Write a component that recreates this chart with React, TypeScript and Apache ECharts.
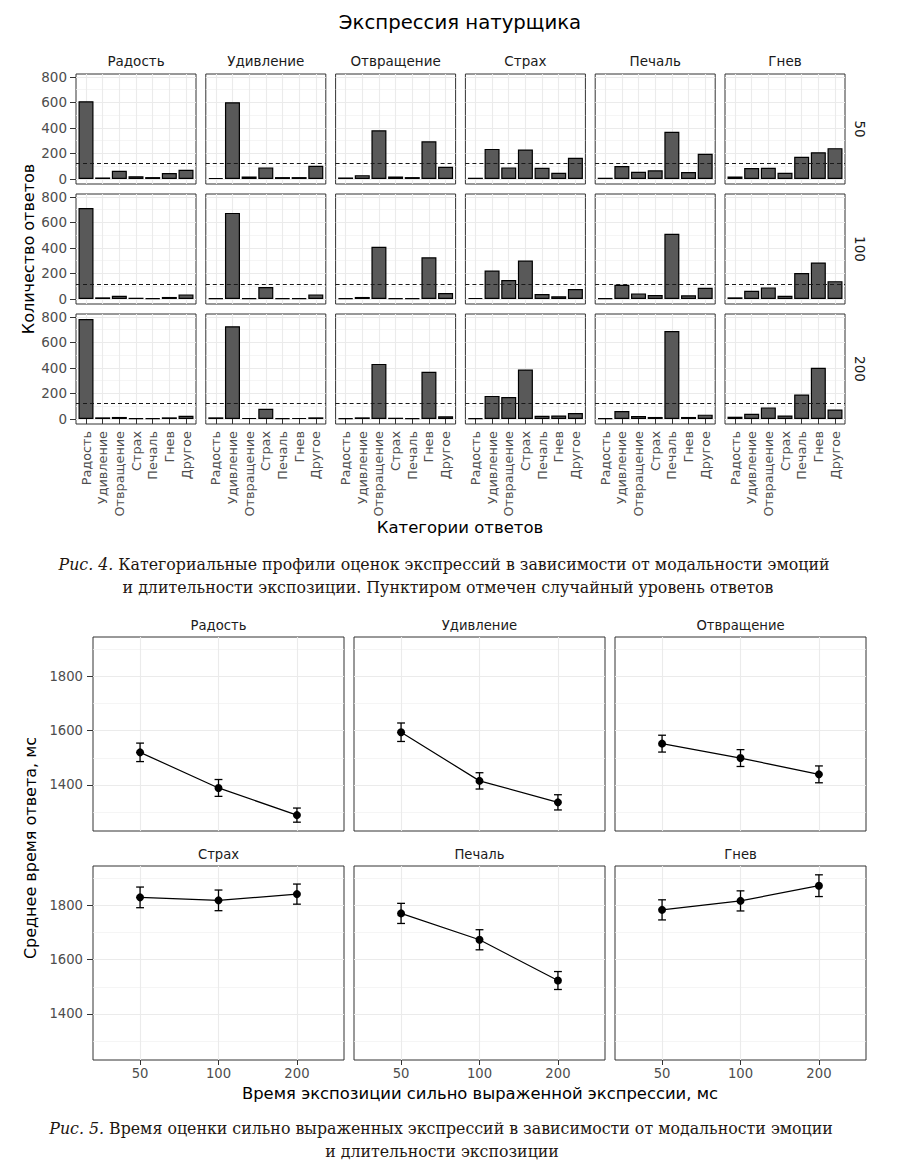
import React, { useEffect, useRef } from "react";
import * as echarts from "echarts";

// ---------- data ----------
const stimulusEmotions = ["Радость", "Удивление", "Отвращение", "Страх", "Печаль", "Гнев"];
const responseCategories = ["Радость", "Удивление", "Отвращение", "Страх", "Печаль", "Гнев", "Другое"];
const exposureLabels = ["50", "100", "200"];

// rows: stimulus emotion, columns: response category
const counts50 = [
  [610, 12, 65, 22, 15, 47, 73],
  [8, 602, 20, 91, 15, 15, 104],
  [12, 30, 382, 20, 15, 296, 96],
  [10, 236, 91, 231, 88, 49, 166],
  [10, 101, 57, 68, 371, 55, 197],
  [20, 86, 88, 49, 174, 210, 242],
];
const counts100 = [
  [714, 13, 26, 10, 5, 16, 36],
  [5, 675, 5, 94, 5, 5, 36],
  [5, 16, 410, 5, 5, 327, 47],
  [8, 223, 148, 301, 39, 21, 78],
  [5, 112, 44, 31, 512, 29, 88],
  [13, 65, 91, 26, 203, 286, 140],
];
const counts200 = [
  [784, 13, 16, 5, 5, 13, 26],
  [13, 727, 8, 80, 5, 8, 13],
  [5, 13, 432, 10, 5, 370, 21],
  [5, 181, 173, 388, 26, 28, 47],
  [5, 62, 23, 16, 689, 16, 34],
  [18, 41, 91, 28, 192, 401, 75],
];
const chanceLevels = [123, 115, 121];
const countYTicks = [0, 200, 400, 600, 800];

const rtExposureLabels = ["50", "100", "200"];
const rtMeans = [
  [1520, 1389, 1289],
  [1594, 1415, 1336],
  [1552, 1499, 1439],
  [1829, 1818, 1841],
  [1770, 1673, 1523],
  [1783, 1816, 1872],
];
const rtHalfWidths = [
  [34, 31, 26],
  [34, 30, 28],
  [31, 31, 31],
  [38, 38, 37],
  [37, 37, 33],
  [37, 37, 40],
];
const rtYTicks = [1400, 1600, 1800];

// ---------- styles ----------
const SANS = "DejaVu Sans";
const SERIF = "DejaVu Serif";
const GRID_MAJOR = "#ebebeb";
const TICK_TEXT = "#4d4d4d";
const STRIP_TEXT = "#1a1a1a";
const CAPTION = "#1e1610";
const CAPTION_SIZE = 15.8;

function buildOption() {
  const grids: any[] = [];
  const xAxes: any[] = [];
  const yAxes: any[] = [];
  const series: any[] = [];
  const graphics: any[] = [];

  const text = (t: string, x: number, y: number, o: any = {}) => ({
    type: "text",
    x,
    y,
    rotation: o.rotation || 0,
    scaleX: o.scaleX || 1,
    silent: true,
    style: {
      text: t,
      fontFamily: o.font || SANS,
      fontSize: o.size || 13,
      fill: o.color || "#000",
      align: "center",
      verticalAlign: "middle",
      rich: o.rich,
    },
  });

  // ----- Figure 4: bar facets -----
  const countRows = [counts50, counts100, counts200];
  const cMax = Math.max(...countRows.flat(2));
  const cLo = -0.05 * cMax;
  const cHi = 1.05 * cMax;
  const catPos = responseCategories.map((_, i) => i + 1);
  const topLeft0 = 76;
  const topStep = 129.8;
  const topW = 120;
  const topTop0 = 74;
  const topRowStep = 120;
  const topH = 110;

  countRows.forEach((rowData, r) => {
    rowData.forEach((vals, c) => {
      const k = grids.length;
      const bottomRow = r === countRows.length - 1;
      const leftCol = c === 0;
      grids.push({
        left: topLeft0 + c * topStep,
        top: topTop0 + r * topRowStep,
        width: topW,
        height: topH,
        show: true,
        backgroundColor: "#fff",
        borderColor: "#333",
        borderWidth: 1,
        containLabel: false,
        outerBoundsMode: "none",
      });
      xAxes.push({
        type: "value",
        gridIndex: k,
        min: 0.4,
        max: responseCategories.length + 0.6,
        axisLine: { show: false },
        axisTick: { show: bottomRow, customValues: catPos, length: 5, lineStyle: { color: "#333", width: 1 } },
        axisLabel: {
          show: bottomRow,
          customValues: catPos,
          rotate: 90,
          margin: 7,
          fontFamily: SANS,
          fontSize: 12.8,
          color: TICK_TEXT,
          formatter: (v: number) => responseCategories[Math.round(v) - 1] || "",
        },
        splitLine: { show: true, lineStyle: { color: GRID_MAJOR, width: 1.1 } },
      });
      yAxes.push({
        type: "value",
        gridIndex: k,
        min: cLo,
        max: cHi,
        splitNumber: 5,
        axisLine: { show: false },
        axisTick: { show: leftCol, customValues: countYTicks, length: 6, lineStyle: { color: "#333", width: 1 } },
        axisLabel: {
          show: leftCol,
          customValues: countYTicks,
          margin: 9,
          fontFamily: SANS,
          fontSize: 13.5,
          color: TICK_TEXT,
          formatter: (v: number) => String(Math.round(v)),
        },
        splitLine: { show: true, lineStyle: { color: GRID_MAJOR, width: 1.1 } },
        minorTick: { show: false, splitNumber: 2 },
        minorSplitLine: { show: true, lineStyle: { color: "#f0f0f0", width: 0.7 } },
      });
      series.push({
        type: "bar",
        xAxisIndex: k,
        yAxisIndex: k,
        data: vals.map((v, i) => [i + 1, v]),
        barWidth: 15,
        itemStyle: { color: "#595959", borderColor: "#000", borderWidth: 1.2 },
        emphasis: { disabled: true },
        z: 2,
        markLine: {
          silent: true,
          symbol: ["none", "none"],
          label: { show: false },
          emphasis: { disabled: true },
          lineStyle: { color: "#1a1a1a", type: [4, 3], width: 1 },
          data: [{ yAxis: chanceLevels[r] }],
        },
      });
    });
  });

  // strip labels (Figure 4)
  stimulusEmotions.forEach((e, c) => {
    graphics.push(text(e, topLeft0 + c * topStep + topW / 2, 61, { size: 13.5, color: STRIP_TEXT }));
  });
  exposureLabels.forEach((e, r) => {
    graphics.push(
      text(e, 860, topTop0 + r * topRowStep + topH / 2, { size: 13.5, color: STRIP_TEXT, rotation: -Math.PI / 2 })
    );
  });
  graphics.push(text("Экспрессия натурщика", 460, 22, { size: 19.7 }));
  graphics.push(text("Количество ответов", 28, 249, { size: 16, rotation: Math.PI / 2 }));
  graphics.push(text("Категории ответов", 460, 527, { size: 16.5 }));
  const capRich = { i: { fontStyle: "italic", fontFamily: SERIF, fontSize: CAPTION_SIZE, fill: CAPTION } };
  graphics.push(
    text("{i|Рис. 4.} Категориальные профили оценок экспрессий в зависимости от модальности эмоций", 444, 564, {
      font: SERIF,
      size: CAPTION_SIZE,
      color: CAPTION,
      rich: capRich,
    })
  );
  graphics.push(
    text("и длительности экспозиции. Пунктиром отмечен случайный уровень ответов", 448, 587, {
      font: SERIF,
      size: CAPTION_SIZE,
      color: CAPTION,
    })
  );

  // ----- Figure 5: RT facets -----
  let rtLo = Infinity;
  let rtHi = -Infinity;
  rtMeans.forEach((row, e) =>
    row.forEach((m, i) => {
      rtLo = Math.min(rtLo, m - rtHalfWidths[e][i]);
      rtHi = Math.max(rtHi, m + rtHalfWidths[e][i]);
    })
  );
  const pad = 0.05 * (rtHi - rtLo);
  const expPos = rtExposureLabels.map((_, i) => i + 1);
  const botLeft0 = 93;
  const botStep = 261;
  const botW = 251;
  const botTop0 = 637;
  const botRowStep = 229;
  const botH = 194;

  rtMeans.forEach((means, e) => {
    const r = Math.floor(e / 3);
    const c = e % 3;
    const k = grids.length;
    const bottomRow = r === 1;
    const leftCol = c === 0;
    grids.push({
      left: botLeft0 + c * botStep,
      top: botTop0 + r * botRowStep,
      width: botW,
      height: botH,
      show: true,
      backgroundColor: "#fff",
      borderColor: "#333",
      borderWidth: 1,
      containLabel: false,
      outerBoundsMode: "none",
    });
    xAxes.push({
      type: "value",
      gridIndex: k,
      min: 0.4,
      max: rtExposureLabels.length + 0.6,
      splitNumber: 3,
      axisLine: { show: false },
      axisTick: { show: bottomRow, customValues: expPos, length: 5, lineStyle: { color: "#333", width: 1 } },
      axisLabel: {
        show: bottomRow,
        customValues: expPos,
        margin: 7,
        fontFamily: SANS,
        fontSize: 13.2,
        color: TICK_TEXT,
        formatter: (v: number) => rtExposureLabels[Math.round(v) - 1] || "",
      },
      splitLine: { show: true, lineStyle: { color: GRID_MAJOR, width: 1.1 } },
    });
    yAxes.push({
      type: "value",
      gridIndex: k,
      min: rtLo - pad,
      max: rtHi + pad,
      splitNumber: 3,
      axisLine: { show: false },
      axisTick: { show: leftCol, customValues: rtYTicks, length: 6, lineStyle: { color: "#333", width: 1 } },
      axisLabel: {
        show: leftCol,
        customValues: rtYTicks,
        margin: 10,
        fontFamily: SANS,
        fontSize: 13.2,
        color: TICK_TEXT,
        formatter: (v: number) => String(Math.round(v)),
      },
      splitLine: { show: true, lineStyle: { color: GRID_MAJOR, width: 1.1 } },
      minorTick: { show: false, splitNumber: 2 },
      minorSplitLine: { show: true, lineStyle: { color: "#f0f0f0", width: 0.7 } },
    });
    series.push({
      type: "custom",
      xAxisIndex: k,
      yAxisIndex: k,
      z: 3,
      silent: true,
      encode: { x: 0, y: [1, 2] },
      data: means.map((m, i) => [i + 1, m - rtHalfWidths[e][i], m + rtHalfWidths[e][i]]),
      renderItem: (_params: any, api: any) => {
        const x = api.value(0);
        const lo = api.value(1);
        const hi = api.value(2);
        const pt = api.coord([x, hi]);
        const pb = api.coord([x, lo]);
        const half = (api.coord([x + 0.05, hi])[0] - api.coord([x - 0.05, hi])[0]) / 2;
        const style = { stroke: "#000", lineWidth: 1.3, fill: "none" };
        return {
          type: "group",
          children: [
            { type: "line", shape: { x1: pt[0], y1: pt[1], x2: pb[0], y2: pb[1] }, style },
            { type: "line", shape: { x1: pt[0] - half, y1: pt[1], x2: pt[0] + half, y2: pt[1] }, style },
            { type: "line", shape: { x1: pb[0] - half, y1: pb[1], x2: pb[0] + half, y2: pb[1] }, style },
          ],
        };
      },
    });
    series.push({
      type: "line",
      xAxisIndex: k,
      yAxisIndex: k,
      z: 4,
      silent: true,
      data: means.map((m, i) => [i + 1, m]),
      symbol: "circle",
      symbolSize: 8,
      itemStyle: { color: "#000" },
      lineStyle: { color: "#000", width: 1.2 },
      emphasis: { disabled: true },
    });
    graphics.push(
      text(stimulusEmotions[e], botLeft0 + c * botStep + botW / 2, botTop0 + r * botRowStep - 12, {
        size: 13.2,
        color: STRIP_TEXT,
      })
    );
  });

  graphics.push(text("Среднее время ответа, мс", 30, 848, { size: 16, rotation: Math.PI / 2 }));
  graphics.push(text("Время экспозиции сильно выраженной экспрессии, мс", 480, 1093, { size: 16.4 }));
  graphics.push(
    text("{i|Рис. 5.} Время оценки сильно выраженных экспрессий в зависимости от модальности эмоции", 441, 1128, {
      font: SERIF,
      size: CAPTION_SIZE,
      color: CAPTION,
      rich: capRich,
    })
  );
  graphics.push(text("и длительности экспозиции", 442, 1151, { font: SERIF, size: CAPTION_SIZE, color: CAPTION }));

  return {
    animation: false,
    backgroundColor: "#fff",
    grid: grids,
    xAxis: xAxes,
    yAxis: yAxes,
    series,
    graphic: { elements: graphics },
  };
}

export default function App() {
  const ref = useRef<HTMLDivElement>(null);
  useEffect(() => {
    if (!ref.current) return;
    const chart = echarts.init(ref.current, null, { renderer: "svg" });
    chart.setOption(buildOption() as any);
    return () => chart.dispose();
  }, []);
  return (
    <div
      ref={ref}
      style={{ position: "absolute", left: 0, top: 0, width: 898, height: 1167, background: "#fff" }}
    />
  );
}
